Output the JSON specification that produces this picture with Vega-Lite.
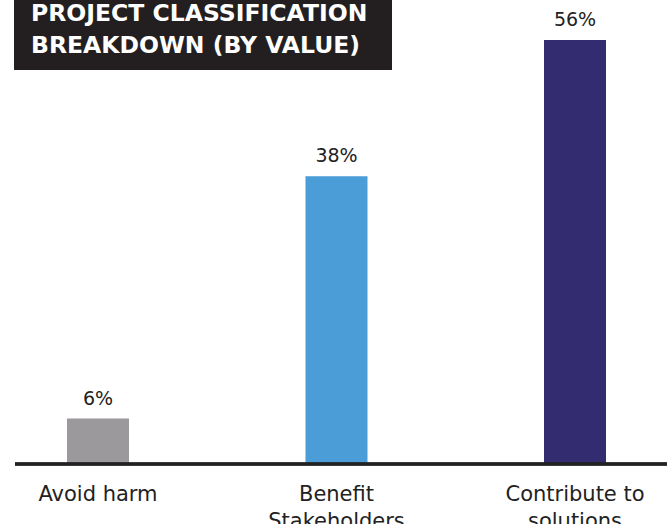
{
  "$schema": "https://vega.github.io/schema/vega-lite/v6.json",
  "width": 652,
  "height": 464,
  "autosize": "none",
  "padding": {"left": 15, "top": 0, "right": 0, "bottom": 60},
  "background": "white",
  "config": {"view": {"stroke": null}},
  "data": {"values": [
    {"category": "Avoid harm", "share": 0.06},
    {"category": "Benefit Stakeholders", "share": 0.38},
    {"category": "Contribute to solutions", "share": 0.56}
  ]},
  "layer": [
    {
      "mark": {"type": "bar"},
      "encoding": {
        "x": {"field": "category", "type": "nominal", "sort": null,
          "scale": {"range": [0, 643], "paddingInner": 0.74, "paddingOuter": 0.218},
          "axis": {"title": null, "domain": false, "ticks": false, "labelAngle": 0,
            "labelFont": "DejaVu Sans", "labelFontSize": 21, "labelColor": "#222222",
            "labelPadding": 19, "labelLineHeight": 27, "labelBaseline": "top", "labelOverlap": false, "labelBound": false,
            "labelExpr": "datum.value == 'Benefit Stakeholders' ? ['Benefit','Stakeholders'] : datum.value == 'Contribute to solutions' ? ['Contribute to','solutions'] : datum.value"}},
        "y": {"field": "share", "type": "quantitative", "scale": {"domain": [0, 0.613], "nice": false}, "axis": null},
        "color": {"field": "category", "type": "nominal", "legend": null,
          "scale": {"domain": ["Avoid harm", "Benefit Stakeholders", "Contribute to solutions"],
                    "range": ["#9b999c", "#4a9dd6", "#332c70"]}}
      }
    },
    {
      "mark": {"type": "text", "baseline": "alphabetic", "dy": -14, "font": "DejaVu Sans", "fontSize": 19, "color": "#222222"},
      "encoding": {
        "x": {"field": "category", "type": "nominal", "sort": null},
        "y": {"field": "share", "type": "quantitative"},
        "text": {"field": "share", "type": "quantitative", "format": ".0%"}
      }
    },
    {
      "mark": {"type": "rule", "color": "#222222", "strokeWidth": 3},
      "encoding": {"y": {"datum": 0}}
    },
    {
      "data": {"values": [{"title": "PROJECT CLASSIFICATION BREAKDOWN (BY VALUE)"}]},
      "mark": {"type": "rect", "color": "#231f20"},
      "encoding": {"x": {"value": -1}, "x2": {"value": 377}, "y": {"value": 0}, "y2": {"value": 70}}
    },
    {
      "data": {"values": [{"title": "PROJECT CLASSIFICATION BREAKDOWN (BY VALUE)"}]},
      "mark": {"type": "text", "align": "left", "baseline": "alphabetic", "font": "DejaVu Sans", "fontWeight": "bold", "fontSize": 23.5, "color": "white", "lineHeight": 32},
      "encoding": {"x": {"value": 16}, "y": {"value": 20.5},
        "text": {"value": ["PROJECT CLASSIFICATION", "BREAKDOWN (BY VALUE)"]}}
    }
  ]
}
